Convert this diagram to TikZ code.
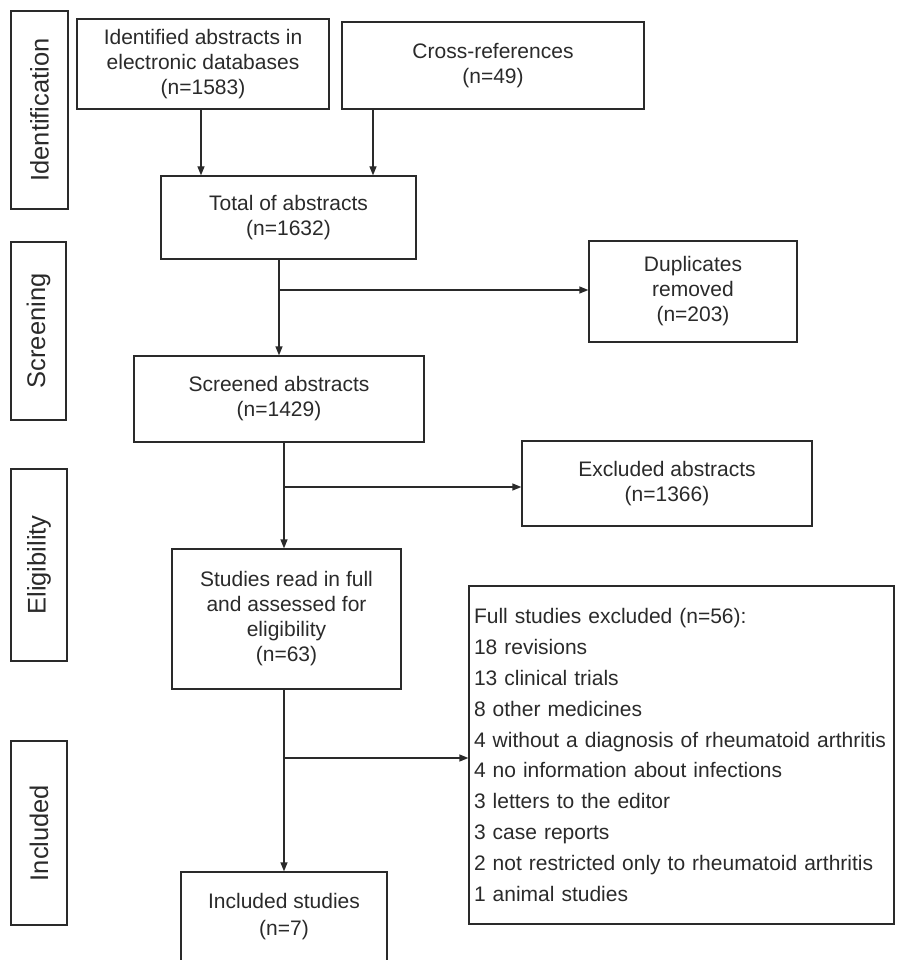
\documentclass[tikz,border=0pt]{standalone}
\usepackage{fontspec}
\setmainfont{Liberation Sans}
\usetikzlibrary{arrows.meta}
\definecolor{ink}{HTML}{2A2A2A}
\begin{document}
\begin{tikzpicture}[x=1pt,y=-1pt,
  box/.style={draw=ink,line width=1.3pt,text=ink,inner sep=0pt,align=center,
    font=\fontsize{21}{25}\selectfont},
  sidelab/.style={draw=ink,line width=1.3pt,text=ink,inner sep=0pt,
    font=\fontsize{25.5}{30}\selectfont},
  flow/.style={draw=ink,line width=1.3pt,-{Triangle[length=9pt,width=7pt]}},
  plain/.style={draw=ink,line width=1.3pt}]
\useasboundingbox (0,0) rectangle (896,960);
% side labels
\node[sidelab,minimum width=57pt,minimum height=198pt] (idlab) at (39.5,110) {};
\node[text=ink,rotate=90,font=\fontsize{25.5}{30}\selectfont] (idtxt) at (idlab.center) {Identification};
\node[sidelab,minimum width=55pt,minimum height=178pt] (scrlab) at (38.5,331) {};
\node[text=ink,rotate=90,font=\fontsize{25.5}{30}\selectfont] (scrtxt) at (scrlab.center) {Screening};
\node[sidelab,minimum width=56pt,minimum height=192pt] (elilab) at (39,565) {};
\node[text=ink,rotate=90,font=\fontsize{25.5}{30}\selectfont] (elitxt) at (elilab.center) {Eligibility};
\node[sidelab,minimum width=56pt,minimum height=184pt] (inclab) at (39,833) {};
\node[text=ink,rotate=90,font=\fontsize{25.5}{30}\selectfont] (inctxt) at (inclab.center) {Included};
% main boxes
\node[box,minimum width=252pt,minimum height=90pt] (db) at (203,64) {Identified abstracts in\\electronic databases\\(n=1583)};
\node[box,minimum width=302pt,minimum height=87pt] (cross) at (493,65.5) {Cross-references\\(n=49)};
\node[box,minimum width=255pt,minimum height=83pt] (total) at (288.5,217.5) {Total of abstracts\\(n=1632)};
\node[box,minimum width=208pt,minimum height=101pt] (dup) at (693,291.5) {Duplicates\\removed\\ (n=203)};
\node[box,minimum width=290pt,minimum height=86pt] (scr) at (279,399) {Screened abstracts\\(n=1429)};
\node[box,minimum width=290pt,minimum height=85pt] (exc) at (667,483.5) {Excluded abstracts\\(n=1366)};
\node[box,minimum width=229pt,minimum height=140pt] (stud) at (286.5,619) {Studies read in full\\and assessed for\\eligibility\\(n=63)};
\node[box,minimum height=338pt,text width=415pt,inner xsep=5pt,align=left,
  font=\fontsize{21}{30.8}\selectfont] (full) at (681.5,755)
  {Full studies excluded (n=56):\\18 revisions\\13 clinical trials\\8 other medicines\\4 without a diagnosis of rheumatoid arthritis\\4 no information about infections\\3 letters to the editor\\3 case reports\\2 not restricted only to rheumatoid arthritis\\1 animal studies};
\node[box,minimum width=206pt,minimum height=100pt] (inc) at (284,922) {};
\node[text=ink,align=center,font=\fontsize{21}{27}\selectfont] (inctext) at (284,916.5) {Included studies\\(n=7)};
% connectors
\draw[flow] (db.south -| 201,0) -- (total.north -| 201,0);
\draw[flow] (cross.south -| 373,0) -- (total.north -| 373,0);
\draw[flow] (total.south -| 279,0) -- (scr.north -| 279,0);
\coordinate (b1) at (279,290);
\draw[flow] (b1) -- (dup.west |- b1);
\draw[flow] (scr.south -| 284,0) -- (stud.north -| 284,0);
\coordinate (b2) at (284,487);
\draw[flow] (b2) -- (exc.west |- b2);
\draw[flow] (stud.south -| 284,0) -- (inc.north -| 284,0);
\coordinate (b3) at (284,758);
\draw[flow] (b3) -- (full.west |- b3);
\end{tikzpicture}
\end{document}
